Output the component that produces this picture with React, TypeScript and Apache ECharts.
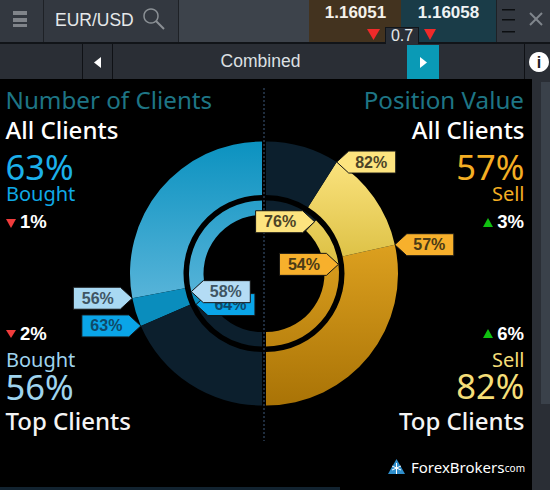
import React, { useEffect, useRef } from "react";
import * as echarts from "echarts";

const clientsOuter = [56, 63];
const clientsInner = [58, 64];
const valueOuter = [57, 82];
const valueInner = [54, 76];

const headerLeft = ["Number of Clients", "All Clients", "63%", "Bought", "1%", "2%", "Bought", "56%", "Top Clients"];
const headerRight = ["Position Value", "All Clients", "57%", "Sell", "3%", "6%", "Sell", "82%", "Top Clients"];

const LEFT_C = 262;
const RIGHT_C = 266;
const CY = 273.5;
const R_OUT = [78.5, 132];
const R_IN = [58.5, 73];

const UB = '"Noto Sans", sans-serif';
const AR = '"Liberation Sans", Arial, sans-serif';

const grad = (y0: number, y1: number, c0: string, c1: string) =>
  new echarts.graphic.LinearGradient(0, y0, 0, y1, [{ offset: 0, color: c0 }, { offset: 1, color: c1 }], true);

const hidden = { color: "rgba(0,0,0,0)" };

function halfPie(name: string, vals: number[], cx: number, radius: number[], start: number, colors: any[]) {
  const [a, b] = vals;
  const parts = [a, b - a, 100 - b];
  return {
    type: "pie",
    name,
    silent: true,
    center: [cx, CY],
    radius,
    startAngle: start,
    clockwise: false,
    label: { show: false },
    labelLine: { show: false },
    emphasis: { disabled: true },
    data: [
      ...parts.map((value, i) => ({ value, itemStyle: { color: colors[i] } })),
      { value: 100, itemStyle: hidden },
    ],
  };
}

function txt(text: string, x: number, base: number, size: number, fill: string, align = "left", family = UB, weight = "normal", z = 20) {
  return {
    type: "text",
    z,
    style: {
      text,
      x,
      y: base - size * 0.36,
      fill,
      font: `${weight} ${size}px ${family}`,
      textAlign: align,
      textVerticalAlign: "middle",
    },
  };
}

function rect(x: number, y: number, w: number, h: number, fill: string, z = 0) {
  return { type: "rect", z, shape: { x, y, width: w, height: h }, style: { fill } };
}

function poly(points: number[][], fill: string, z = 5, stroke?: string) {
  return { type: "polygon", z, shape: { points }, style: { fill, stroke, lineWidth: stroke ? 1 : 0 } };
}

function tag(value: number, side: "L" | "R", r: number, tipDir: "right" | "left", fill: string, color: string, z: number) {
  const a = (value / 100) * Math.PI;
  const tx = side === "L" ? LEFT_C - r * Math.sin(a) : RIGHT_C + r * Math.sin(a);
  const ty = side === "L" ? CY + -r * Math.cos(a) : CY + r * Math.cos(a);
  const d = tipDir === "right" ? -1 : 1;
  const top = ty - 11;
  const bot = ty + 11;
  const shoulder = tx + d * 12;
  const back = tx + d * 59;
  return [
    poly([[tx, ty], [shoulder, top], [back, top], [back, bot], [shoulder, bot]], fill, z, "#141414"),
    {
      type: "text",
      z: z + 1,
      style: {
        text: `${value}%`,
        x: (shoulder + back) / 2 - d * 1,
        y: ty,
        fill: color,
        font: `bold 16px ${AR}`,
        textAlign: "center",
        textVerticalAlign: "middle",
      },
    },
  ];
}

const navy = "#0c1f2d";

export default function App() {
  const ref = useRef<HTMLDivElement>(null);
  useEffect(() => {
    const chart = echarts.init(ref.current!, undefined, { renderer: "svg" });
    const lightBlue = grad(141, 300, "#0b92c0", "#58b4d9");
    const midBlue = "#0a8dbd";
    const amber = grad(245, 406, "#dca01f", "#a97306");
    const yellow = grad(160, 262, "#fbe37e", "#dcc044");
    const blues = [lightBlue, midBlue, navy];
    const golds = [amber, yellow, navy];

    const graphic: any[] = [
      // top bar
      rect(0, 0, 550, 43, "#333840"),
      rect(178, 0, 131, 43, "#3d434b"),
      rect(309, 0, 92, 43, "#43331f"),
      rect(401, 0, 95, 43, "#1a3c48"),
      rect(43, 0, 1, 43, "#1e2126"),
      rect(178, 0, 1, 43, "#1e2126"),
      rect(496, 0, 1, 43, "#1e2126"),
      rect(0, 42, 550, 2, "#111418"),
      // second bar
      rect(0, 44, 550, 35, "#2a2e35"),
      rect(82, 44, 1, 35, "#0f1115"),
      rect(112, 44, 1, 35, "#0f1115"),
      rect(524, 44, 1, 35, "#0f1115"),
      rect(407, 45, 32, 34, "#0a9ab6"),
      // side panel and bottom strip
      rect(532, 79, 18, 411, "#2a2e35"),
      rect(541, 82, 9, 322, "#3a414a"),
      rect(0, 487, 340, 3, "#122330"),
      // hamburger
      rect(13, 11, 14, 4, "#80848a"),
      rect(13, 18, 14, 4, "#80848a"),
      rect(13, 24, 14, 3, "#80848a"),
      // handle
      rect(502, 9, 13, 1.5, "#0c0e11"),
      rect(502, 19, 13, 1.5, "#0c0e11"),
      rect(502, 31, 13, 1.5, "#0c0e11"),
      // close
      { type: "line", z: 6, shape: { x1: 530, y1: 13, x2: 542, y2: 25 }, style: { stroke: "#80868c", lineWidth: 2 } },
      { type: "line", z: 6, shape: { x1: 542, y1: 13, x2: 530, y2: 25 }, style: { stroke: "#80868c", lineWidth: 2 } },
      // search
      { type: "circle", z: 6, shape: { cx: 151, cy: 16, r: 7 }, style: { fill: "none", stroke: "#8b9095", lineWidth: 1.5 } },
      { type: "line", z: 6, shape: { x1: 156, y1: 21, x2: 164, y2: 29 }, style: { stroke: "#8b9095", lineWidth: 2 } },
      txt("EUR/USD", 55, 26, 17.5, "#e6e8ea", "left", AR),
      txt("1.16051", 355.5, 19, 17, "#f4f1ea", "center", AR, "bold"),
      txt("1.16058", 448.5, 19, 17, "#eef3f4", "center", AR, "bold"),
      poly([[367, 29], [380, 29], [373.5, 40]], "#f02a2a"),
      poly([[424, 29], [436, 29], [430, 40]], "#f02a2a"),
      rect(385, 27, 34, 16, "#11151a", 5),
      rect(386, 28, 32, 16, "#2a2f37", 6),
      txt("0.7", 402, 41, 16, "#e6e8ea", "center", AR),
      txt("Combined", 260.5, 67, 17.5, "#dde0e3", "center", AR),
      poly([[101, 57], [101, 68], [94, 62.5]], "#ffffff"),
      poly([[420, 57], [420, 68], [427, 62.5]], "#ffffff"),
      { type: "circle", z: 6, shape: { cx: 539, cy: 62, r: 10 }, style: { fill: "#ffffff" } },
      txt("i", 539, 68, 16, "#1b1d22", "center", AR, "bold"),
      // centre divider
      { type: "line", z: 15, shape: { x1: 264, y1: 88, x2: 264, y2: 441 }, style: { stroke: "#1f2d3e", lineWidth: 2, lineDash: [2, 2] } },
      // left text
      txt(headerLeft[0], 5.5, 108, 24.2, "#1e7585"),
      txt(headerLeft[1], 5.5, 138, 24, "#ffffff", "left", UB, "500"),
      txt(headerLeft[2], 5.5, 178.5, 34.5, "#1cb0ea"),
      txt(headerLeft[3], 6, 200.5, 20, "#0fa9e6"),
      poly([[6, 219], [16, 219], [11, 228]], "#f03c3c"),
      txt(headerLeft[4], 20, 228, 18.5, "#ffffff", "left", AR, "bold"),
      poly([[6, 330], [16, 330], [11, 338]], "#f03c3c"),
      txt(headerLeft[5], 20, 340, 18.5, "#ffffff", "left", AR, "bold"),
      txt(headerLeft[6], 6, 366.5, 20, "#9fd4ee"),
      txt(headerLeft[7], 5.5, 398.5, 34.5, "#9fd4ee"),
      txt(headerLeft[8], 5.5, 429, 24, "#f4f4f4", "left", UB, "500"),
      // right text
      txt(headerRight[0], 524, 108, 24.2, "#1e7585", "right"),
      txt(headerRight[1], 524.5, 138, 24, "#ffffff", "right", UB, "500"),
      txt(headerRight[2], 524.5, 178.5, 34.5, "#f4ae23", "right"),
      txt(headerRight[3], 524.5, 200.5, 20, "#f4ae23", "right"),
      poly([[483, 227], [493, 227], [488, 218]], "#10c010"),
      txt(headerRight[4], 524, 228, 18.5, "#ffffff", "right", AR, "bold"),
      poly([[483, 338], [493, 338], [488, 329]], "#10c010"),
      txt(headerRight[5], 524, 340, 18.5, "#ffffff", "right", AR, "bold"),
      txt(headerRight[6], 524.5, 366.5, 20, "#f5de78", "right"),
      txt(headerRight[7], 524.5, 398, 34.5, "#f5de78", "right"),
      txt(headerRight[8], 524.5, 429, 24, "#f4f4f4", "right", UB, "500"),
      // logo
      poly([[396.5, 459], [388, 474], [405, 474]], "#2f8ecb", 6),
      { type: "line", z: 7, shape: { x1: 396.5, y1: 463, x2: 396.5, y2: 474 }, style: { stroke: "#ffffff", lineWidth: 1 } },
      { type: "line", z: 7, shape: { x1: 392, y1: 470, x2: 401, y2: 466 }, style: { stroke: "#ffffff", lineWidth: 1 } },
      { type: "line", z: 7, shape: { x1: 392, y1: 466, x2: 401, y2: 470 }, style: { stroke: "#ffffff", lineWidth: 1 } },
      txt("ForexBrokers", 411, 472, 15, "#ffffff"),
      txt(".com", 525, 472, 10, "#ffffff", "right"),
      // value tags
      ...tag(clientsOuter[0], "L", R_OUT[1], "right", "#a9d9f3", "#3f5563", 30),
      ...tag(clientsOuter[1], "L", R_OUT[1], "right", "#0aa5e8", "#0f4a6a", 32),
      ...tag(clientsInner[1], "L", R_IN[1], "left", "#0aa5e8", "#0f4a6a", 34),
      ...tag(clientsInner[0], "L", R_IN[1], "left", "#b4dcf5", "#3f5563", 36),
      ...tag(valueOuter[1], "R", R_OUT[1], "left", "#fde47f", "#4d4427", 38),
      ...tag(valueOuter[0], "R", R_OUT[1], "left", "#f7b02c", "#4a3a16", 40),
      ...tag(valueInner[1], "R", R_IN[1] - 2, "right", "#fde47f", "#4d4427", 42),
      ...tag(valueInner[0], "R", R_IN[1], "right", "#f7b02c", "#4a3a16", 44),
    ];

    chart.setOption({
      animation: false,
      backgroundColor: "#000000",
      tooltip: { show: false },
      graphic: { elements: graphic },
      series: [
        halfPie("Number of Clients, outer", clientsOuter, LEFT_C, R_OUT, 90, blues),
        halfPie("Number of Clients, inner", clientsInner, LEFT_C, R_IN, 90, blues),
        halfPie("Position Value, outer", valueOuter, RIGHT_C, R_OUT, 270, golds),
        halfPie("Position Value, inner", valueInner, RIGHT_C, R_IN, 270, golds),
      ],
    });
    return () => chart.dispose();
  }, []);
  return <div ref={ref} style={{ position: "absolute", left: 0, top: 0, width: 550, height: 490 }} />;
}
